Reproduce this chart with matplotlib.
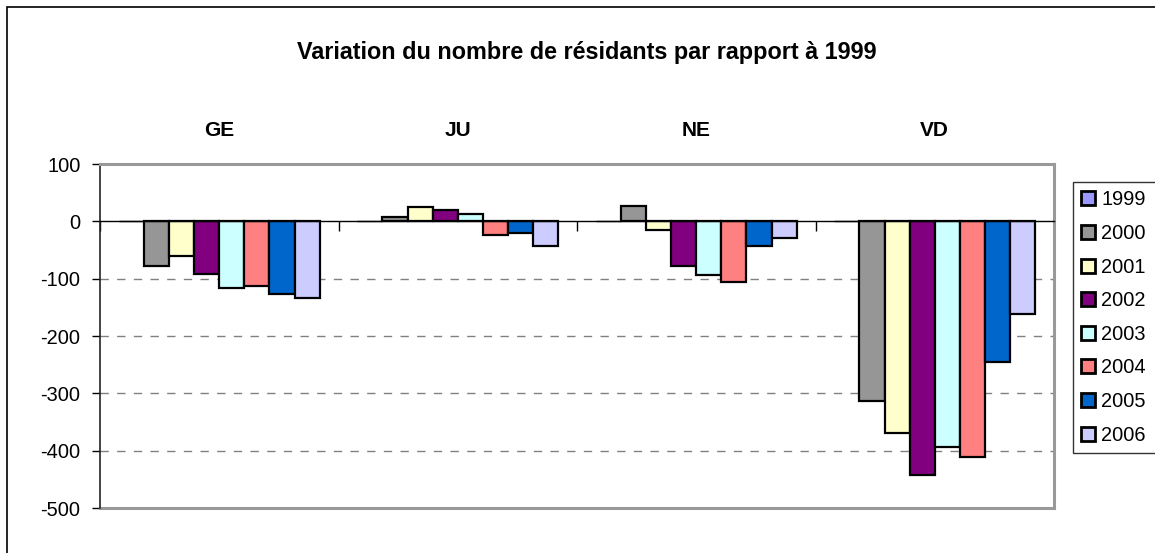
import matplotlib.pyplot as plt
import matplotlib.transforms as mtransforms
from matplotlib.patches import Rectangle

plt.rcParams['font.family'] = ['Liberation Sans', 'DejaVu Sans']
plt.rcParams['axes.unicode_minus'] = False

cantons = ['GE', 'JU', 'NE', 'VD']
years = ['1999', '2000', '2001', '2002', '2003', '2004', '2005', '2006']
colors = ['#9999FF', '#969696', '#FFFFCC', '#800080', '#CCFFFF', '#FF8080', '#0066CC', '#CCCCFF']

# variation par rapport a 1999, une liste par annee (GE, JU, NE, VD)
v1999 = [0, 0, 0, 0]
v2000 = [-78, 8, 27, -313]
v2001 = [-61, 25, -15, -369]
v2002 = [-91, 19, -78, -442]
v2003 = [-116, 13, -94, -394]
v2004 = [-113, -23, -105, -411]
v2005 = [-127, -21, -43, -245]
v2006 = [-133, -43, -29, -161]
series = [v1999, v2000, v2001, v2002, v2003, v2004, v2005, v2006]

W, H = 1155, 553
fig = plt.figure(figsize=(W / 100, H / 100), dpi=100)
ax = fig.add_axes([100 / W, 1 - 508 / H, 954 / W, 344 / H])

bw = 1 / 9.5
x = range(len(cantons))
for i, (yr, vals) in enumerate(zip(years, series)):
    pos = [c + 0.75 * bw + i * bw for c in x]
    ax.bar(pos, vals, width=bw, align='edge', color=colors[i], edgecolor='black',
           linewidth=1.6 if i else 1, label=yr, zorder=3)

ax.set_xlim(0, 4)
ax.set_ylim(-500, 100)
ax.set_yticks(range(-500, 101, 100))
ax.tick_params(axis='y', direction='out', length=6, width=1, labelsize=14.4, pad=8)
for g in range(-400, 0, 100):
    ax.axhline(g, color='#808080', lw=1, ls=(0, (6, 6)), zorder=1)
ax.axhline(-500, color='#999999', lw=2.2, zorder=2, clip_on=False)

ax.spines['bottom'].set_position(('data', 0))
ax.spines['bottom'].set_color('black')
ax.spines['bottom'].set_linewidth(1)
ax.spines['bottom'].set_zorder(4)
ax.set_xticks(range(0, 5))
ax.set_xticklabels([])
ax.tick_params(axis='x', direction='out', length=7, width=1)
ax.spines['left'].set_color('#222222')
ax.spines['left'].set_linewidth(1.2)
for s in ['top', 'right']:
    ax.spines[s].set_color('#999999')
    ax.spines[s].set_linewidth(2.2)

trans = mtransforms.blended_transform_factory(ax.transData, fig.transFigure)
for c, name in enumerate(cantons):
    ax.text(c + 0.5, 1 - 131 / H, name, transform=trans, ha='center', va='center',
            fontsize=15, fontweight='bold')

fig.text(587 / W, 1 - 53 / H, 'Variation du nombre de résidants par rapport à 1999',
         ha='center', va='center', fontsize=16.8, fontweight='bold')

leg = fig.legend(loc='upper left', bbox_to_anchor=(1073 / W, 1 - 451 / H, 120 / W, 269 / H),
                 mode='expand', fontsize=14.4, frameon=True, fancybox=False,
                 handlelength=0.7, handleheight=0.7, handletextpad=0.3,
                 labelspacing=0.73, borderpad=0.42, borderaxespad=0)
leg.get_frame().set_edgecolor('black')
leg.get_frame().set_linewidth(1)
for h in leg.legend_handles:
    h.set_linewidth(2)

fig.patches.append(Rectangle((7 / W, -0.1), 1.2, 1.1 - 7 / H, transform=fig.transFigure,
                             fill=False, edgecolor='black', linewidth=1.2))

fig.savefig('out.png', dpi=100)
